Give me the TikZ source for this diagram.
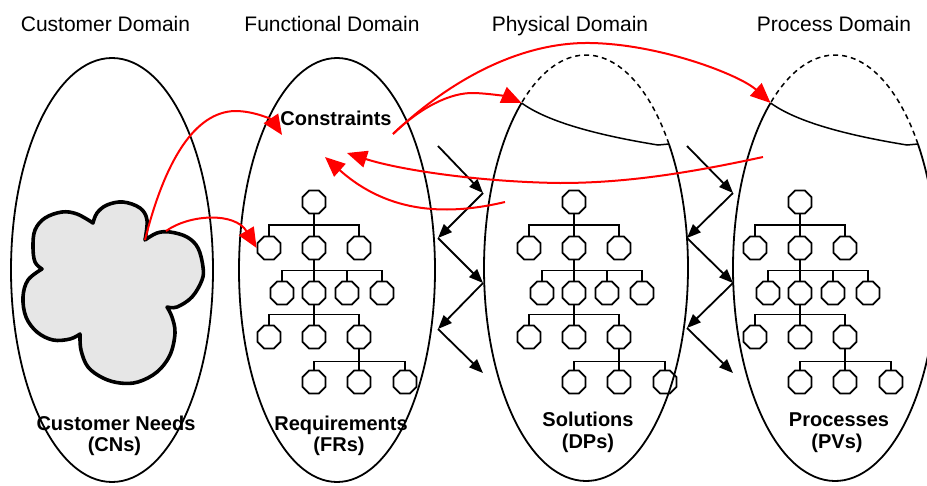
\documentclass[tikz,border=0pt]{standalone}
\usepackage{fontspec}
\setmainfont{Liberation Sans}
\usetikzlibrary{arrows.meta,shapes.geometric}

\definecolor{cloudgray}{RGB}{230,230,230}

\tikzset{
  domainline/.style={line width=1.8pt},
  dashtop/.style={line width=1.5pt, dash pattern=on 5pt off 4pt},
  chordline/.style={line width=1.5pt},
  leaf/.style={regular polygon, regular polygon sides=8, draw, line width=1.7pt,
               minimum size=25pt, inner sep=0pt},
  link/.style={line width=1.8pt},
  zig/.style={line width=1.8pt, -{Triangle[length=14pt,width=11pt]}},
  flow/.style={draw=red, line width=2pt, -{Triangle[length=20pt,width=17pt]}, red},
  cloudline/.style={line width=3.6pt, fill=cloudgray, line join=round},
  title/.style={font=\fontsize{21}{25}\selectfont, anchor=base, inner sep=0pt},
  caption/.style={font=\bfseries\fontsize{20}{24}\selectfont, anchor=base, inner sep=0pt},
}

% One hierarchy of requirements / solutions / processes, shifted by #1, names prefixed by #2
\newcommand\hierarchy[2]{%
\begin{scope}[xshift=#1]
  \node[leaf] (#2r)  at (314,202) {};
  \node[leaf] (#2a1) at (269,248) {};
  \node[leaf] (#2a2) at (314,248) {};
  \node[leaf] (#2a3) at (359,248) {};
  \node[leaf] (#2b1) at (282,293) {};
  \node[leaf] (#2b2) at (314,293) {};
  \node[leaf] (#2b3) at (347,293) {};
  \node[leaf] (#2b4) at (382,293) {};
  \node[leaf] (#2c1) at (269,337) {};
  \node[leaf] (#2c2) at (314,337) {};
  \node[leaf] (#2c3) at (359,337) {};
  \node[leaf] (#2d1) at (314,382) {};
  \node[leaf] (#2d2) at (359,382) {};
  \node[leaf] (#2d3) at (405,382) {};
  \draw[link] (#2r.south) -- ++(0,10.5) -| (#2a1.north);
  \draw[link] (#2r.south) -- (#2a2.north);
  \draw[link] (#2r.south) -- ++(0,10.5) -| (#2a3.north);
  \draw[link] (#2a2.south) -- ++(0,10) -| (#2b1.north);
  \draw[link] (#2a2.south) -- (#2b2.north);
  \draw[link] (#2a2.south) -- ++(0,10) -| (#2b3.north);
  \draw[link] (#2a2.south) -- ++(0,10) -| (#2b4.north);
  \draw[link] (#2b2.south) -- ++(0,9) -| (#2c1.north);
  \draw[link] (#2b2.south) -- (#2c2.north);
  \draw[link] (#2b2.south) -- ++(0,9) -| (#2c3.north);
  \draw[link] (#2c3.south) -- ++(0,12) -| (#2d1.north);
  \draw[link] (#2c3.south) -- (#2d2.north);
  \draw[link] (#2c3.south) -- ++(0,12) -| (#2d3.north);
\end{scope}}

\begin{document}
\begin{tikzpicture}[x=1pt,y=-1pt]
\useasboundingbox (0,0) rectangle (927,485);
\clip (0,0) rectangle (927,485);

% domain titles
\node[title] (tcust) at (105.5,31) {Customer Domain};
\node[title] (tfunc) at (332,31) {Functional Domain};
\node[title] (tphys) at (570,31) {Physical Domain};
\node[title] (tproc) at (834,31) {Process Domain};

% customer needs cloud
\draw[cloudline]
  plot[smooth, tension=0.6] coordinates {(145,240) (147,220) (140,208) (123,202) (107,205) (97,213) (93,223)}
  -- plot[smooth, tension=0.6] coordinates {(93,223) (77,214) (62,212) (45,218) (35,230) (33,247) (35,262) (42,269)}
  -- plot[smooth, tension=0.6] coordinates {(42,269) (28,280) (23,297) (26,317) (37,332) (53,340) (70,339) (80,334)}
  -- plot[smooth, tension=0.6] coordinates {(80,334) (81,350) (88,367) (103,378) (120,383) (138,382) (157,372) (170,355) (175,333) (172,317) (167,307)}
  -- plot[smooth, tension=0.6] coordinates {(167,307) (177,307) (192,297) (202,280) (203,267) (198,248) (187,237) (170,232) (157,233) (145,240)}
  -- cycle;

% hierarchies
\hierarchy{0pt}{f}
\hierarchy{260pt}{d}
\hierarchy{486pt}{p}

% captions
\node[caption] (cn1) at (116,430) {Customer Needs};
\node[caption] (cn2) at (114.5,451) {(CNs)};
\node[caption] (fr1) at (341,430) {Requirements};
\node[caption] (fr2) at (339,451) {(FRs)};
\node[caption] (dp1) at (588,426) {Solutions};
\node[caption] (dp2) at (588,448) {(DPs)};
\node[caption] (pv1) at (839,426) {Processes};
\node[caption] (pv2) at (837,448) {(PVs)};
\node[caption] (cons) at (336,125) {Constraints};

% domain outlines
\draw[domainline] (112,270) ellipse [x radius=101, y radius=212];
\draw[domainline] (337,270) ellipse [x radius=98, y radius=212];

\coordinate (dpC) at (586,268);
\path (dpC) ++(-129.2:102 and 213) coordinate (pL);
\path (dpC) ++(-35.6:102 and 213) coordinate (pR);
\draw[dashtop] (pR) arc[start angle=-35.6, end angle=-129.2, x radius=102, y radius=213];
\draw[domainline] (pL) arc[start angle=-129.2, end angle=-395.6, x radius=102, y radius=213];
\draw[chordline] (pL) .. controls (545,120) and (590,134) .. (658,145) -- (pR);

\coordinate (pvC) at (835,268);
\path (pvC) ++(-129.2:102 and 213) coordinate (qL);
\path (pvC) ++(-35.6:102 and 213) coordinate (qR);
\draw[dashtop] (qR) arc[start angle=-35.6, end angle=-129.2, x radius=102, y radius=213];
\draw[domainline] (qL) arc[start angle=-129.2, end angle=-395.6, x radius=102, y radius=213];
\draw[chordline] (qL) .. controls (794,120) and (839,134) .. (907,145) -- (qR);

% zigzag mapping between functional and physical domains
\coordinate (za1) at (438,146);
\coordinate (za2) at (483,193);
\coordinate (za3) at (438,238);
\coordinate (za4) at (483,283);
\coordinate (za5) at (438,329);
\coordinate (za6) at (483,373);
\draw[zig] (za1) -- (za2);
\draw[zig] (za2) -- (za3);
\draw[zig] (za3) -- (za4);
\draw[zig] (za4) -- (za5);
\draw[zig] (za5) -- (za6);

% zigzag mapping between physical and process domains
\coordinate (zb1) at (687,146);
\coordinate (zb2) at (733,193);
\coordinate (zb3) at (687,238);
\coordinate (zb4) at (733,283);
\coordinate (zb5) at (687,328);
\coordinate (zb6) at (733,373);
\draw[zig] (zb1) -- (zb2);
\draw[zig] (zb2) -- (zb3);
\draw[zig] (zb3) -- (zb4);
\draw[zig] (zb4) -- (zb5);
\draw[zig] (zb5) -- (zb6);

% red flows
\coordinate (cnTop) at (145,240);
\coordinate (cnRight) at (166,231);
\coordinate (consIn) at (282,135);
\coordinate (consOut) at (393,134);
\coordinate (consBackA) at (347,153);
\coordinate (consBackB) at (325,157);
\coordinate (dpOut) at (505,202);
\coordinate (pvOut) at (763,157);

\draw[flow] (cnTop) .. controls (165,160) and (195,112) .. (235,111)
            .. controls (255,111) and (272,120) .. (consIn);
\draw[flow] (cnRight) .. controls (190,214) and (235,212) .. (fa1.west);
\draw[flow] (consOut) .. controls (450,80) and (520,42) .. (590,43)
            .. controls (660,44) and (740,75) .. (qL);
\draw[flow] (consOut) .. controls (420,108) and (450,92) .. (475,93)
            .. controls (495,94) and (508,97) .. (pL);
\draw[flow] (pvOut) .. controls (680,175) and (620,183) .. (560,183)
            .. controls (480,182) and (400,170) .. (consBackA);
\draw[flow] (dpOut) .. controls (450,215) and (390,215) .. (consBackB);
\end{tikzpicture}
\end{document}
